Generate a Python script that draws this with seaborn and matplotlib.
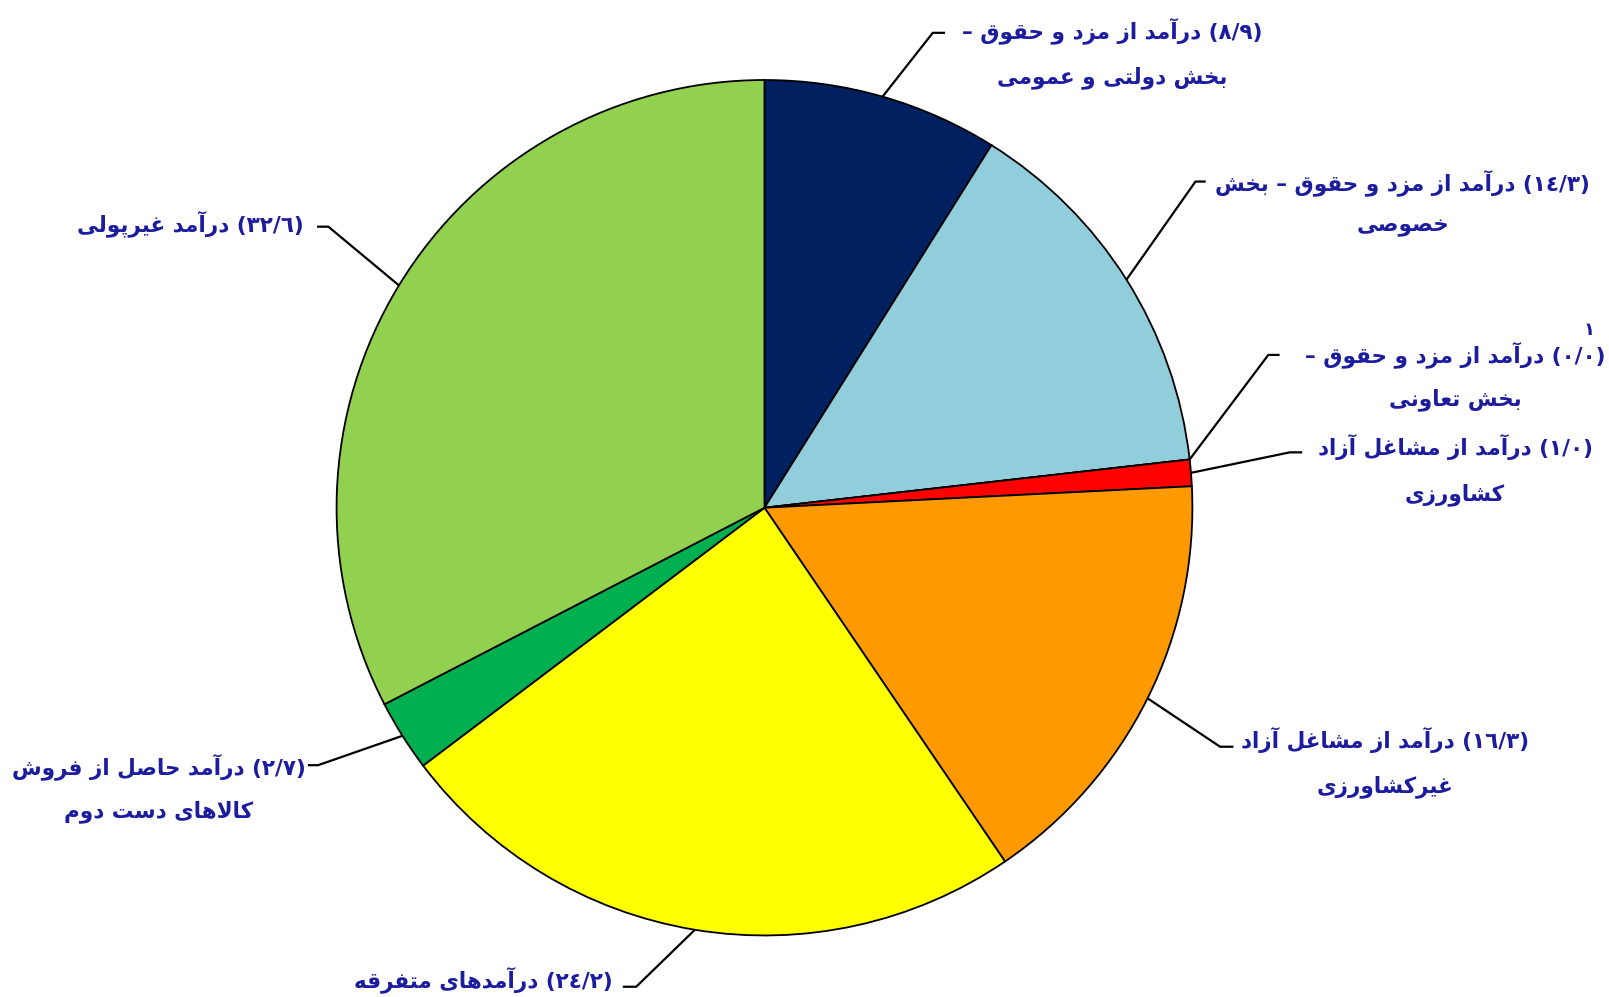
import numpy as np
import matplotlib
matplotlib.use("Agg")
from matplotlib import pyplot as plt
import seaborn as sns

# data: shares of household income (percent)
values = [8.9, 14.3, 0.0, 1.0, 16.3, 24.2, 2.7, 32.6]
colors = ["#002060", "#92CDDC", "#FFFFFF", "#FF0000", "#FF9900", "#FFFF00", "#00B050", "#92D050"]
line1 = ["درآمد از مزد و حقوق –", "درآمد از مزد و حقوق – بخش", "درآمد از مزد و حقوق –",
         "درآمد از مشاغل آزاد", "درآمد از مشاغل آزاد", "درآمدهای متفرقه",
         "درآمد حاصل از فروش", "درآمد غیرپولی"]
line2 = ["بخش دولتی و عمومی", "خصوصی", "بخش تعاونی", "کشاورزی", "غیرکشاورزی", "",
         "کالاهای دست دوم", ""]
footnote = "١"

# label layout in reference pixel space (y down): elbow, line end, text centre x, line y's
W, H = 1568, 972
layout = [
    ((909, 32), (921, 32), 1084, [30, 76]),
    ((1165, 177), (1175, 177), 1367, [178, 221]),
    ((1236, 346), (1247, 346), 1418, [346, 390]),
    ((1257, 441), (1269, 441), 1418, [436, 482]),
    ((1189, 728), (1202, 728), 1350, [721, 767]),
    ((620, 962), (607, 962), 471, [955]),
    ((310, 746), (300, 746), 155, [747, 791]),
    ((320, 221), (309, 221), 186, [218]),
]

# --- minimal Persian shaping (matplotlib has no complex text layout) ---
FORMS = {
    'ا': ('\uFE8D', '\uFE8E', None, None), 'آ': ('\uFE81', '\uFE82', None, None),
    'ب': ('\uFE8F', '\uFE90', '\uFE91', '\uFE92'), 'پ': ('\uFB56', '\uFB57', '\uFB58', '\uFB59'),
    'ت': ('\uFE95', '\uFE96', '\uFE97', '\uFE98'), 'ح': ('\uFEA1', '\uFEA2', '\uFEA3', '\uFEA4'),
    'خ': ('\uFEA5', '\uFEA6', '\uFEA7', '\uFEA8'), 'د': ('\uFEA9', '\uFEAA', None, None),
    'ر': ('\uFEAD', '\uFEAE', None, None), 'ز': ('\uFEAF', '\uFEB0', None, None),
    'س': ('\uFEB1', '\uFEB2', '\uFEB3', '\uFEB4'), 'ش': ('\uFEB5', '\uFEB6', '\uFEB7', '\uFEB8'),
    'ص': ('\uFEB9', '\uFEBA', '\uFEBB', '\uFEBC'), 'ع': ('\uFEC9', '\uFECA', '\uFECB', '\uFECC'),
    'غ': ('\uFECD', '\uFECE', '\uFECF', '\uFED0'), 'ف': ('\uFED1', '\uFED2', '\uFED3', '\uFED4'),
    'ق': ('\uFED5', '\uFED6', '\uFED7', '\uFED8'), 'ک': ('\uFB8E', '\uFB8F', '\uFB90', '\uFB91'),
    'ل': ('\uFEDD', '\uFEDE', '\uFEDF', '\uFEE0'), 'م': ('\uFEE1', '\uFEE2', '\uFEE3', '\uFEE4'),
    'ن': ('\uFEE5', '\uFEE6', '\uFEE7', '\uFEE8'), 'ه': ('\uFEE9', '\uFEEA', '\uFEEB', '\uFEEC'),
    'و': ('\uFEED', '\uFEEE', None, None), 'ی': ('\uFBFC', '\uFBFD', '\uFBFE', '\uFBFF'),
    'لا': ('\uFEFB', '\uFEFC', None, None), 'لآ': ('\uFEF5', '\uFEF6', None, None),
}
DIGITS = set("٠١٢٣٤٥٦٧٨٩/")


def shape(text):
    units = []
    i = 0
    while i < len(text):
        if text[i] == 'ل' and i + 1 < len(text) and text[i + 1] in 'اآ':
            units.append(text[i:i + 2])
            i += 2
        else:
            units.append(text[i])
            i += 1
    out = []
    for k, u in enumerate(units):
        if u not in FORMS:
            out.append(u)
            continue
        f = FORMS[u]
        prev = units[k - 1] if k > 0 else None
        nxt = units[k + 1] if k + 1 < len(units) else None
        jp = prev in FORMS and FORMS[prev][2] is not None
        jn = f[2] is not None and nxt in FORMS
        if jp and jn:
            out.append(f[3])
        elif jp:
            out.append(f[1])
        elif jn:
            out.append(f[2])
        else:
            out.append(f[0])
    vis = ''.join(out)[::-1]
    # digit runs stay left-to-right, brackets are mirrored
    res, run = [], []
    for ch in vis + '\0':
        if ch in DIGITS:
            run.append(ch)
            continue
        res.extend(run[::-1])
        run = []
        res.append({'(': ')', ')': '('}.get(ch, ch))
    return ''.join(res[:-1])


def fa_num(v):
    return f"{v:.1f}".replace('.', '/').translate(str.maketrans("0123456789", "٠١٢٣٤٥٦٧٨٩"))


sns.set_style("white")
plt.rcParams['font.family'] = ['DejaVu Sans']
text_color = "#1C1C9E"

fig = plt.figure(figsize=(16.09, 9.97), dpi=100)
ax = fig.add_axes([0, 0, 1, 1])
wedges, _ = ax.pie(values, colors=colors, startangle=90, counterclock=False,
                   center=(745, H - 495), radius=417,
                   wedgeprops=dict(edgecolor="black", linewidth=1.3))
ax.set_xlim(0, W)
ax.set_ylim(0, H)
ax.set_aspect('auto')
ax.axis('off')

texts_first = []
for w, v, t1, t2, (elbow, end, cx, ys) in zip(wedges, values, line1, line2, layout):
    mid = np.deg2rad((w.theta1 + w.theta2) / 2)
    x0 = w.center[0] + w.r * np.cos(mid)
    y0 = w.center[1] + w.r * np.sin(mid)
    ax.plot([x0, elbow[0], end[0]], [y0, H - elbow[1], H - end[1]], color="black", lw=1.6,
            solid_capstyle='butt')
    lines = ["(" + fa_num(v) + ") " + t1] + ([t2] if t2 else [])
    for k, (ln, y) in enumerate(zip(lines, ys)):
        t = ax.text(cx, H - y, shape(ln), ha='center', va='center', fontsize=15.5,
                    fontweight='bold', color=text_color)
        if k == 0:
            texts_first.append(t)

# footnote marker on the zero-share label
fig.canvas.draw()
bb = texts_first[2].get_window_extent().transformed(ax.transData.inverted())
ax.text(bb.x1 - 16, bb.y1 + 2, footnote, ha='center', va='bottom', fontsize=13,
        fontweight='bold', color=text_color)

fig.savefig("out.png", dpi=100)
